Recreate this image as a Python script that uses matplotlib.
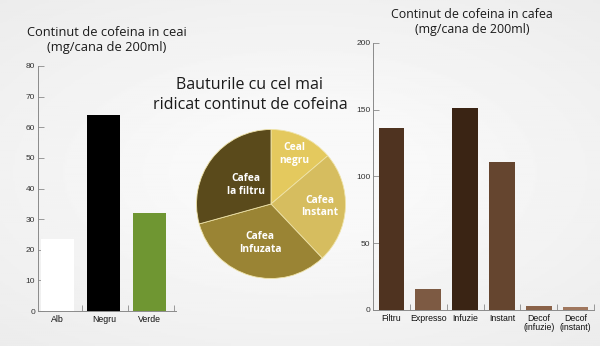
import numpy as np
import matplotlib.pyplot as plt

plt.rcParams['font.family'] = ['Open Sans', 'DejaVu Sans']

# data
tea_cats = ['Alb', 'Negru', 'Verde']
tea_vals = [23.5, 64, 32]
tea_cols = ['#ffffff', '#000000', '#6f9632']

coffee_cats = ['Filtru', 'Expresso', 'Infuzie', 'Instant', 'Decof\n(infuzie)', 'Decof\n(instant)']
coffee_vals = [136, 15.5, 151.5, 111, 3.2, 2]
coffee_cols = ['#4f3320', '#7d5a43', '#3a2414', '#65452f', '#8a6249', '#a0775e']

pie_labels = ['Ceal\nnegru', 'Cafea\nInstant', 'Cafea\nInfuzata', 'Cafea\nla filtru']
pie_vals = [64, 112, 152, 136]
pie_cols = ['#e4c95e', '#d6bd5f', '#9a8434', '#5a4a1b']
pie_rad = [0.74, 0.66, 0.54, 0.42]

axcol = '#8a8a8a'
txtcol = '#1a1a1a'

fig = plt.figure(figsize=(6, 3.46), dpi=100)

# background vignette
bg = fig.add_axes([0, 0, 1, 1], zorder=-5)
yy, xx = np.mgrid[-1:1:200j, -1:1:300j]
rr = np.sqrt((xx * 0.9) ** 2 + (yy * 1.0) ** 2)
bg.imshow(0.975 - 0.05 * np.clip(rr - 0.35, 0, None), cmap='gray', vmin=0, vmax=1,
          aspect='auto', extent=[0, 1, 0, 1])
bg.axis('off')


def style_bar_axes(ax):
    ax.set_facecolor('none')
    for s in ['top', 'right']:
        ax.spines[s].set_visible(False)
    for s in ['left', 'bottom']:
        ax.spines[s].set_color(axcol)
        ax.spines[s].set_linewidth(0.7)
    ax.tick_params(axis='y', direction='in', length=4, width=0.6, color=axcol,
                   labelsize=6, labelcolor='#333333', pad=2)
    ax.tick_params(axis='x', which='major', length=0, labelsize=6.3,
                   labelcolor='#111111', pad=3)
    ax.tick_params(axis='x', which='minor', direction='in', length=4, width=0.6, color=axcol)
    for lab in ax.get_yticklabels() + ax.get_xticklabels():
        lab.set_fontfamily(['Liberation Sans', 'DejaVu Sans'])


# LEFT: tea
ax1 = fig.add_axes([38 / 600, 35 / 346, 138 / 600, 245 / 346])
x1 = np.arange(len(tea_cats))
ax1.bar(x1, tea_vals, width=0.72, color=tea_cols, zorder=3)
ax1.set_xlim(-0.43, len(tea_cats) - 0.43)
ax1.set_ylim(0, 80)
ax1.set_yticks(range(0, 81, 10))
ax1.set_xticks(x1)
ax1.set_xticklabels(tea_cats)
ax1.set_xticks(x1 + 0.52, minor=True)
style_bar_axes(ax1)
fig.text(107 / 600, 1 - 40 / 346, 'Continut de cofeina in ceai\n(mg/cana de 200ml)',
         ha='center', va='center', fontsize=9.3, color=txtcol, linespacing=1.12)

# RIGHT: coffee
ax2 = fig.add_axes([373 / 600, 36 / 346, 221 / 600, 267 / 346])
x2 = np.arange(len(coffee_cats))
ax2.bar(x2, coffee_vals, width=0.7, color=coffee_cols, zorder=3)
ax2.set_xlim(-0.5, len(coffee_cats) - 0.5)
ax2.set_ylim(0, 200)
ax2.set_yticks(range(0, 201, 50))
ax2.set_xticks(x2)
ax2.set_xticklabels(coffee_cats, linespacing=0.95)
ax2.set_xticks(x2 + 0.5, minor=True)
style_bar_axes(ax2)
fig.text(472 / 600, 1 - 22 / 346, 'Continut de cofeina in cafea\n(mg/cana de 200ml)',
         ha='center', va='center', fontsize=8.9, color=txtcol, linespacing=1.12)

# CENTER: pie
fig.text(250 / 600, 1 - 95 / 346, 'Bauturile cu cel mai\nridicat continut de cofeina',
         ha='center', va='center', fontsize=11.5, color=txtcol, linespacing=1.35)
ax3 = fig.add_axes([196.5 / 600, 67.5 / 346, 149 / 600, 149 / 346])
wedges, _ = ax3.pie(pie_vals, colors=pie_cols, startangle=90, counterclock=False,
                    radius=1, wedgeprops=dict(edgecolor='#efe3a8', linewidth=0.6))
for w, lab, r in zip(wedges, pie_labels, pie_rad):
    ang = np.deg2rad((w.theta1 + w.theta2) / 2)
    ax3.text(r * np.cos(ang), r * np.sin(ang), lab, ha='center', va='center',
             fontsize=7.4, fontweight='bold', color='white', linespacing=1.2)
ax3.set_xlim(-1, 1)
ax3.set_ylim(-1, 1)
ax3.set_aspect('equal')

fig.savefig('out.png', dpi=100)
